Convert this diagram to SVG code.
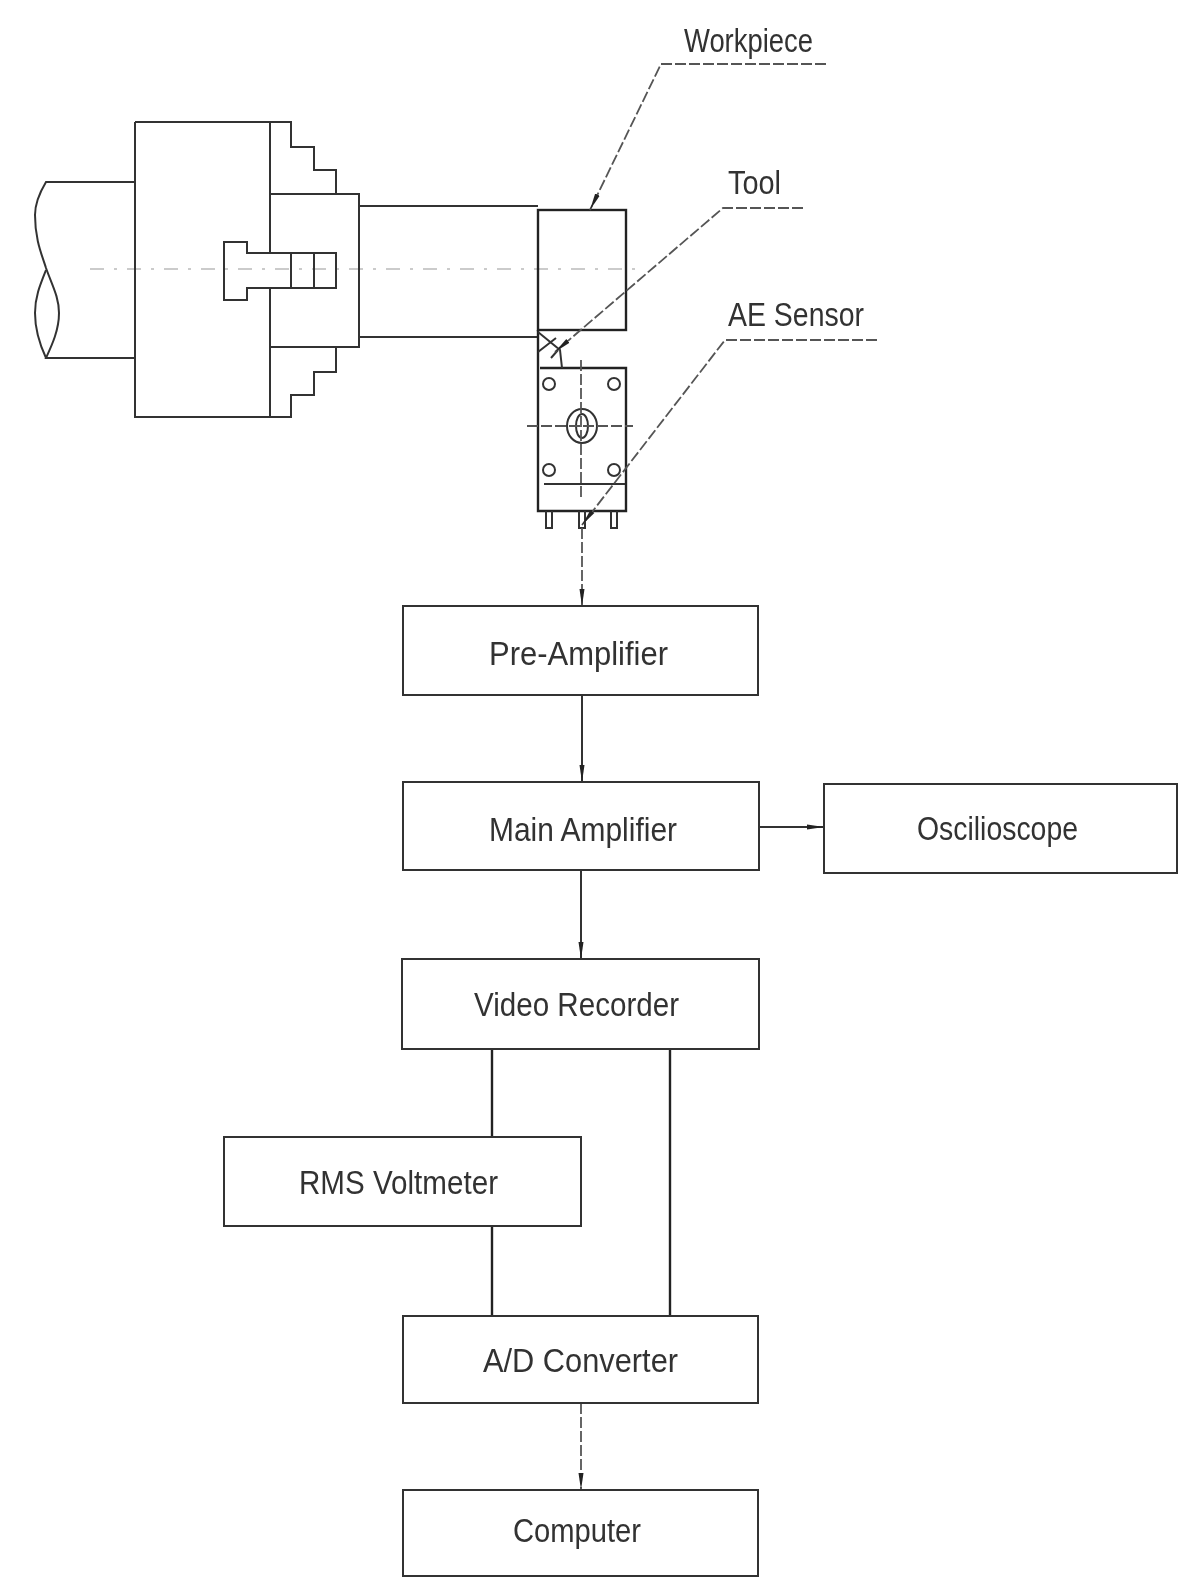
<svg xmlns="http://www.w3.org/2000/svg" width="1181" height="1577" viewBox="0 0 1181 1577">
<style>
.l{fill:none;stroke:#333;stroke-width:2}
.b{fill:none;stroke:#222;stroke-width:2.4}
.d{fill:none;stroke:#555;stroke-width:1.8;stroke-dasharray:11 3}
.c{fill:none;stroke:#bbb;stroke-width:1.5;stroke-dasharray:14 10 3 10}
.box{fill:#fff;stroke:#333;stroke-width:2}
.t{font-family:"Liberation Sans",Arial,sans-serif;font-size:33px;fill:#333;text-anchor:start}
</style>
<defs>
<marker id="a" markerWidth="18" markerHeight="8" refX="17" refY="4" orient="auto" markerUnits="userSpaceOnUse"><path d="M0 1.5L17 4L0 6.5Z" fill="#222"/></marker>
<filter id="s" x="-2%" y="-2%" width="104%" height="104%"><feGaussianBlur stdDeviation="0.7"/></filter>
</defs>
<rect width="1181" height="1577" fill="#fff"/>
<g filter="url(#s)">
<g id="lathe">
<path class="c" d="M90 269H640"/>
<path class="l" d="M135 122H291V147H314V170H336V194M135 122V417H291V395H314V372H336V347"/>
<path class="l" d="M270 122V253M270 288V417M270 194H359V347H270"/>
<path class="l" d="M135 182H46C40 192 35 202 35 215C35 240 42 255 46 268C52 285 59 297 59 313C59 330 52 345 46 358H135"/>
<path class="l" d="M46 358C40 345 35 330 35 313C35 297 40 285 46 270"/>
<path class="l" d="M224 242H247V253H336V288H247V300H224Z"/>
<path class="l" d="M291 253V288M314 253V288"/>
<path class="l" d="M359 206H538M359 337H538"/>
</g>
<g id="workpiece"><rect class="b" x="538" y="210" width="88" height="120"/></g>
<g id="tool-holder">
<path class="b" d="M538 330V511H626V368H540"/>
<path class="l" d="M538 332L560 350L562 368M538 352L556 338M551 358L558 350"/>
<path class="l" d="M544 484H625"/>
<circle class="l" cx="549" cy="384" r="6"/><circle class="l" cx="614" cy="384" r="6"/>
<circle class="l" cx="549" cy="470" r="6"/><circle class="l" cx="614" cy="470" r="6"/>
<ellipse class="l" cx="582" cy="426" rx="15" ry="17"/><ellipse class="l" cx="582" cy="426" rx="6" ry="12"/>
<path class="d" d="M527 426H633M581 360V500"/>
<path class="l" d="M546 511V528H552V511M579 511V528H585V511M611 511V528H617V511"/>
</g>
<g id="connectors">
<path class="d" d="M582 528V606" marker-end="url(#a)"/>
<path class="l" d="M582 695V782" marker-end="url(#a)"/>
<path class="l" d="M759 827H824" marker-end="url(#a)"/>
<path class="l" d="M581 870V959" marker-end="url(#a)"/>
<path class="b" d="M492 1049V1137M492 1226V1316M670 1049V1316"/>
<path class="d" d="M581 1403V1490" marker-end="url(#a)"/>
<path class="d" d="M826 64H661L590 210" marker-end="url(#a)"/>
<path class="d" d="M803 208H723L555 352" marker-end="url(#a)"/>
<path class="d" d="M877 340H725L582 525" marker-end="url(#a)"/>
</g>
<g id="pre-amplifier"><rect class="box" x="403" y="606" width="355" height="89"/><text class="t" x="489" y="665" textLength="179" lengthAdjust="spacingAndGlyphs">Pre-Amplifier</text></g>
<g id="main-amplifier"><rect class="box" x="403" y="782" width="356" height="88"/><text class="t" x="489" y="841" textLength="188" lengthAdjust="spacingAndGlyphs">Main Amplifier</text></g>
<g id="oscilloscope"><rect class="box" x="824" y="784" width="353" height="89"/><text class="t" x="917" y="840" textLength="161" lengthAdjust="spacingAndGlyphs">Oscilioscope</text></g>
<g id="video-recorder"><rect class="box" x="402" y="959" width="357" height="90"/><text class="t" x="474" y="1016" textLength="205" lengthAdjust="spacingAndGlyphs">Video Recorder</text></g>
<g id="rms-voltmeter"><rect class="box" x="224" y="1137" width="357" height="89"/><text class="t" x="299" y="1194" textLength="199" lengthAdjust="spacingAndGlyphs">RMS Voltmeter</text></g>
<g id="ad-converter"><rect class="box" x="403" y="1316" width="355" height="87"/><text class="t" x="483" y="1372" textLength="195" lengthAdjust="spacingAndGlyphs">A/D Converter</text></g>
<g id="computer"><rect class="box" x="403" y="1490" width="355" height="86"/><text class="t" x="513" y="1542" textLength="128" lengthAdjust="spacingAndGlyphs">Computer</text></g>
<text class="t" x="684" y="52" textLength="129" lengthAdjust="spacingAndGlyphs">Workpiece</text>
<text class="t" x="728" y="194" textLength="53" lengthAdjust="spacingAndGlyphs">Tool</text>
<text class="t" x="728" y="326" textLength="136" lengthAdjust="spacingAndGlyphs">AE Sensor</text>
</g>
</svg>
